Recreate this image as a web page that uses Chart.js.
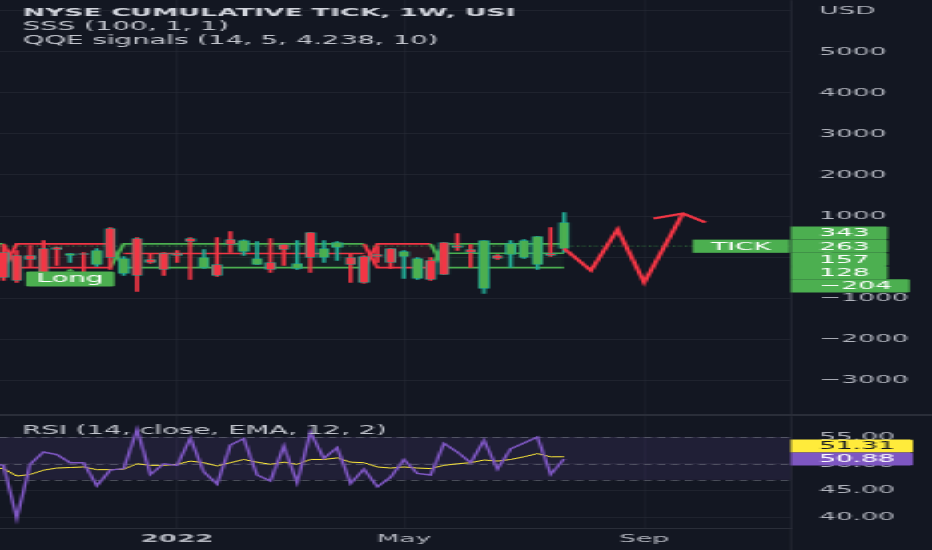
<!DOCTYPE html>
<html>
<head>
<meta charset="utf-8">
<script src="https://cdn.jsdelivr.net/npm/chart.js@4.4.1/dist/chart.umd.min.js"></script>
<style>
  html, body { margin: 0; padding: 0; background: #131722; overflow: hidden; }
  #stage { position: absolute; left: 0; top: 0; width: 388px; height: 550px; transform: scaleX(2.4021); transform-origin: 0 0; }
  #main { position: absolute; left: 0; top: 0; }
  #sep { position: absolute; left: 0; top: 414px; width: 388px; height: 2px; background: #2a2e39; }
  #rsi { position: absolute; left: 0; top: 416px; }
</style>
</head>
<body>
<div id="stage">
  <canvas id="main" width="388" height="414"></canvas>
  <div id="sep"></div>
  <canvas id="rsi" width="388" height="134"></canvas>
</div>
<script>
const FONT = "'DejaVu Sans', sans-serif";
const STRETCH = 932 / 388;
const AXIS_W = (932 - 791) / STRETCH;
const TICK_PAD = 11.7;

const X_MIN = -13.26;
const X_MAX = 46;

// weekly bars, week 0 = first week of 2022
const weeks = [-14, -13, -12, -11, -10, -9, -8, -7, -6, -5, -4, -3, -2, -1, 0, 1, 2, 3, 4, 5, 6, 7, 8, 9, 10, 11, 12, 13, 14, 15, 16, 17, 18, 19, 20, 21, 22, 23, 24, 25, 26, 27, 28, 29];
const candleOpen = [null, 110, 37, 37, 207, 232, 37, 85, -183, 695, -402, 451, -61, 85, 85, 451, -256, -183, 427, 134, -183, -134, 305, -280, 598, -12, 232, -12, 12, 61, 207, 12, -524, -85, 354, 280, 183, -768, 37, 61, -12, -183, 85, 207];
const candleHigh = [null, 280, 159, 280, 402, 245, 85, 110, 207, 720, 12, 476, 85, 110, 159, 476, 183, 476, 622, 420, 378, 451, 305, 402, 598, 402, 378, 85, 37, 256, 207, 159, -12, -12, 354, 573, 305, 402, 61, 402, 427, 500, 720, 1085];
const candleLow = [null, -573, -622, -256, -573, -207, -134, -378, -232, -305, -451, -841, -159, -451, -134, -549, -280, -476, 110, 37, -183, -378, -207, -300, -378, -134, -85, -622, -646, -134, -280, -524, -549, -573, -427, 159, -256, -890, -61, -256, -37, -305, 12, 110];
const candleClose = [null, -500, -573, -61, -524, 183, 85, 61, 159, -12, -37, -451, -134, -305, 37, 378, -12, -451, 305, 402, -37, -305, 183, -159, -12, 207, 354, -183, -622, 12, -134, 134, -37, -549, -427, 232, 110, 402, -37, 329, 402, 500, 37, 841];

// SSS band lines (they swap places at each regime change)
const sssA = [-260, -260, 320, 320, 320, 320, 320, 320, 320, 320, -260, -260, -260, -260, -260, -260, -260, -260, -260, -260, -260, -260, -260, -260, -260, -260, -260, -260, -260, 320, 320, 320, 320, 320, -260, -260, -260, -260, -260, -260, -260, -260, -260, -260];
const sssB = [320, 320, -260, -260, -260, -260, -260, -260, -260, -260, 320, 320, 320, 320, 320, 320, 320, 320, 320, 320, 320, 320, 320, 320, 320, 320, 320, 320, 320, -260, -260, -260, -260, -260, 320, 320, 320, 320, 320, 320, 320, 320, 320, 320];
const midRed = [null, null, null, null, null, null, null, null, null, null, 85, 85, 85, 85, 85, 85, 85, 85, 85, 85, 85, 85, 85, 85, 85, 85, 85, 85, 85, null, null, null, null, null, null, null, null, null, null, null, null, null, null, null];
const midGreen = [null, null, null, null, null, null, null, null, null, null, null, null, null, null, null, null, null, null, null, null, null, null, null, null, null, null, null, null, null, null, null, null, null, null, 93, 93, 93, 93, 93, 93, 93, 93, 93, 93];

const lastPrice = 263;
const priceTags = [343, 263, 157, 128, -204];
const mainTicks = [6000, 5000, 4000, 3000, 2000, 1000, 0, -1000, -2000, -3000];
const longSignalWeek = -8;

// hand-drawn zigzag arrow
const zigzagWeeks = [29, 31, 33, 35, 37.9];
const zigzagValues = [207, -330, 670, -620, 1060];
const arrowWeeks = [35.7, 37.9, 39.6];
const arrowValues = [940, 1060, 840];

const rsiValues = [50.2, 49.7, 39.8, 49.9, 52.2, 51.7, 50.2, 50.2, 45.9, 48.8, 49.1, 56.4, 48.0, 50.0, 49.7, 54.8, 48.5, 46.2, 53.5, 54.7, 47.9, 46.8, 53.3, 46.5, 55.9, 51.0, 53.0, 46.3, 49.0, 45.7, 47.5, 50.8, 48.2, 47.9, 53.8, 52.2, 50.2, 54.4, 49.0, 52.8, 53.9, 55.0, 48.0, 50.88];
const rsiMa = [49.3, 49.1, 47.7, 48.0, 48.8, 49.2, 49.3, 49.4, 48.9, 48.9, 49.0, 50.0, 49.7, 49.7, 49.9, 50.5, 50.2, 49.6, 50.2, 50.8, 50.3, 49.9, 50.3, 49.9, 50.8, 50.8, 51.1, 50.3, 50.2, 49.4, 49.2, 49.4, 49.2, 49.1, 49.7, 50.0, 50.2, 50.7, 50.5, 50.8, 51.3, 51.9, 51.3, 51.31];
const rsiTicks = [55, 50, 45, 40];
const rsiBands = [55, 50, 47];
const rsiTags = [51.31, 50.88];

const timeTickWeeks = [0, 17, 35];
const timeTickLabels = ["2022", "May", "Sep"];

const legendLines = ["NYSE CUMULATIVE TICK, 1W, USI", "SSS (100, 1, 1)", "QQE signals (14, 5, 4.238, 10)"];

const GREEN = "#4caf50";
const RED = "#f23645";
const TEAL = "#22ab94";
const GRID = "rgba(42, 46, 57, 0.55)";
const TEXT = "#b2b5be";

Chart.defaults.font.family = FONT;
Chart.defaults.font.size = 11;
Chart.defaults.color = TEXT;
Chart.defaults.animation = false;

const pts = (values) => weeks.map((w, j) => ({ x: w, y: values[j] }));
const candleIdx = weeks.map((_, j) => j).filter((j) => candleOpen[j] !== null);
const isUp = (j) => candleClose[j] >= candleOpen[j];
const bearish = (j) => sssA[j] > sssB[j];

function fixedTicks(values) {
  return (scale) => { scale.ticks = values.map((value) => ({ value })); };
}

function stackTags(scale, values, anchor, rowH) {
  const own = values.map((v) => scale.getPixelForValue(v));
  const placed = own.slice();
  for (let k = anchor - 1; k >= 0; k--) placed[k] = Math.min(own[k], placed[k + 1] - rowH);
  for (let k = anchor + 1; k < values.length; k++) placed[k] = Math.max(own[k], placed[k - 1] + rowH);
  return placed;
}

function drawTag(ctx, left, cy, h, text, bg, fg) {
  ctx.font = `11px ${FONT}`;
  const w = TICK_PAD + ctx.measureText(text).width + 7.5;
  ctx.fillStyle = bg;
  ctx.beginPath();
  ctx.roundRect(left, cy - h / 2, w, h, [0, 1.2, 1.2, 0]);
  ctx.fill();
  ctx.fillStyle = fg;
  ctx.textAlign = "left";
  ctx.textBaseline = "middle";
  ctx.fillText(text, left + TICK_PAD, cy + 0.5);
}

const fmtMain = (v) => (v === 6000 ? "" : v < 0 ? "\u2212" + Math.abs(v) : String(v));
const fmtTag = (v) => (v < 0 ? "\u2212" + Math.abs(v) : String(v));

const mainOverlay = {
  id: "mainOverlay",
  afterDraw(chart) {
    const { ctx, chartArea: a, scales: { x, y } } = chart;
    ctx.save();
    ctx.textAlign = "left";
    ctx.textBaseline = "middle";
    ctx.fillStyle = "#d1d4dc";
    ctx.font = `bold 11.1px ${FONT}`;
    ctx.fillText(legendLines[0], 9.4, 13);
    ctx.font = `11.5px ${FONT}`;
    ctx.fillStyle = "#c3c6ce";
    ctx.fillText(legendLines[1], 9.4, 26.7);
    ctx.fillText(legendLines[2], 9.4, 40.8);

    ctx.font = `11px ${FONT}`;
    ctx.fillStyle = TEXT;
    ctx.fillText("USD", a.right + TICK_PAD, y.getPixelForValue(mainTicks[0]));

    // "Long" signal label under its bar
    const j = weeks.indexOf(longSignalWeek);
    const lx = x.getPixelForValue(longSignalWeek);
    const ly = y.getPixelForValue(candleLow[j]) + 6;
    ctx.font = `11.5px ${FONT}`;
    const lw = ctx.measureText("Long").width + 9;
    ctx.fillStyle = GREEN;
    ctx.beginPath();
    ctx.moveTo(lx - 2, ly + 3);
    ctx.lineTo(lx, ly);
    ctx.lineTo(lx + 2, ly + 3);
    ctx.fill();
    ctx.beginPath();
    ctx.roundRect(lx - lw / 2, ly + 3, lw, 15, 1.3);
    ctx.fill();
    ctx.fillStyle = "#ffffff";
    ctx.textAlign = "center";
    ctx.fillText("Long", lx, ly + 11);

    // symbol name label on the price line
    const py = y.getPixelForValue(lastPrice);
    ctx.font = `11px ${FONT}`;
    const tw = ctx.measureText("TICK").width + 15.5;
    ctx.fillStyle = GREEN;
    ctx.fillRect(a.right - 0.6 - tw, py - 6.6, tw, 13.2);
    ctx.fillStyle = "#ffffff";
    ctx.fillText("TICK", a.right - 0.6 - tw / 2, py + 0.5);

    const placed = stackTags(y, priceTags, priceTags.indexOf(lastPrice), 13.2);
    priceTags.forEach((v, k) => drawTag(ctx, a.right, placed[k], 13.2, fmtTag(v), GREEN, "#ffffff"));
    ctx.restore();
  },
};

new Chart(document.getElementById("main"), {
  type: "bar",
  data: {
    datasets: [
      {
        type: "line",
        data: zigzagWeeks.map((w, k) => ({ x: w, y: zigzagValues[k] })),
        borderColor: RED,
        borderWidth: 2,
        pointRadius: 0,
        order: 0,
      },
      {
        type: "line",
        data: arrowWeeks.map((w, k) => ({ x: w, y: arrowValues[k] })),
        borderColor: RED,
        borderWidth: 2,
        pointRadius: 0,
        order: 0,
      },
      {
        label: "body",
        data: candleIdx.map((j) => ({ x: weeks[j], y: [candleOpen[j], candleClose[j]] })),
        backgroundColor: candleIdx.map((j) => (isUp(j) ? GREEN : RED)),
        borderColor: TEAL,
        borderWidth: 0.7,
        borderSkipped: false,
        barThickness: 4.2,
        grouped: false,
        order: 1,
      },
      {
        label: "wick",
        data: candleIdx.map((j) => ({ x: weeks[j], y: [candleLow[j], candleHigh[j]] })),
        backgroundColor: candleIdx.map((j) => (isUp(j) ? TEAL : RED)),
        borderWidth: 0,
        barThickness: 1,
        grouped: false,
        order: 2,
      },
      {
        type: "line",
        data: [{ x: X_MIN, y: lastPrice }, { x: X_MAX, y: lastPrice }],
        borderColor: "rgba(76, 175, 80, 0.45)",
        borderWidth: 1.3,
        borderDash: [1.2, 1.3],
        pointRadius: 0,
        order: 3,
      },
      {
        type: "line",
        data: pts(midRed),
        borderColor: RED,
        borderWidth: 1.6,
        pointRadius: 0,
        spanGaps: false,
        order: 4,
      },
      {
        type: "line",
        data: pts(midGreen),
        borderColor: GREEN,
        borderWidth: 1.6,
        pointRadius: 0,
        spanGaps: false,
        order: 4,
      },
      {
        type: "line",
        data: pts(sssA),
        borderColor: GREEN,
        borderWidth: 1.8,
        pointRadius: 0,
        fill: { target: 8 },
        backgroundColor: "rgba(76, 175, 80, 0.07)",
        segment: {
          borderColor: (c) => (bearish(c.p1DataIndex) ? RED : GREEN),
          backgroundColor: (c) => (bearish(c.p1DataIndex) ? "rgba(242, 54, 69, 0.09)" : "rgba(76, 175, 80, 0.07)"),
        },
        order: 5,
      },
      {
        type: "line",
        data: pts(sssB),
        borderColor: GREEN,
        borderWidth: 1.8,
        pointRadius: 0,
        segment: {
          borderColor: (c) => (bearish(c.p1DataIndex) ? RED : GREEN),
        },
        order: 5,
      },
    ],
  },
  options: {
    responsive: false,
    devicePixelRatio: 1,
    layout: { padding: 0 },
    plugins: { legend: { display: false }, tooltip: { enabled: false } },
    scales: {
      x: {
        type: "linear",
        min: X_MIN,
        max: X_MAX,
        offset: false,
        afterBuildTicks: fixedTicks(timeTickWeeks),
        afterFit: (s) => { s.height = 0; s.paddingLeft = 0; s.paddingRight = 0; },
        ticks: { display: false },
        grid: { color: GRID, lineWidth: 0.6, drawTicks: false, offset: false },
        border: { display: false },
      },
      y: {
        position: "right",
        min: -3829,
        max: 6268,
        afterBuildTicks: fixedTicks(mainTicks),
        afterFit: (s) => { s.width = AXIS_W; s.paddingTop = 0; s.paddingBottom = 0; },
        ticks: { padding: TICK_PAD, callback: fmtMain, autoSkip: false },
        grid: { color: GRID, lineWidth: 1, drawTicks: false },
        border: { display: true, color: "#2a2e39", width: 0.6 },
      },
    },
  },
  plugins: [mainOverlay],
});

const rsiOverlay = {
  id: "rsiOverlay",
  beforeDatasetsDraw(chart) {
    const { ctx, chartArea: a, scales: { y } } = chart;
    const top = y.getPixelForValue(rsiBands[0]);
    const bottom = y.getPixelForValue(rsiBands[rsiBands.length - 1]);
    ctx.save();
    ctx.fillStyle = "rgba(126, 87, 194, 0.13)";
    ctx.fillRect(a.left, top, a.right - a.left, bottom - top);
    ctx.strokeStyle = "rgba(120, 123, 134, 0.55)";
    ctx.lineWidth = 1;
    ctx.setLineDash([3.4, 2.3]);
    for (const v of rsiBands) {
      const py = Math.round(y.getPixelForValue(v)) + 0.5;
      ctx.beginPath();
      ctx.moveTo(a.left, py);
      ctx.lineTo(a.right, py);
      ctx.stroke();
    }
    ctx.restore();
  },
  afterDraw(chart) {
    const { ctx, chartArea: a, scales: { y } } = chart;
    ctx.save();
    ctx.font = `11.5px ${FONT}`;
    ctx.fillStyle = "#c3c6ce";
    ctx.textAlign = "left";
    ctx.textBaseline = "middle";
    ctx.fillText("RSI (14, close, EMA, 12, 2)", 9.2, 15);

    ctx.strokeStyle = "#2a2e39";
    ctx.lineWidth = 0.6;
    ctx.beginPath();
    ctx.moveTo(a.right, a.bottom);
    ctx.lineTo(a.right, chart.height);
    ctx.stroke();

    const placed = stackTags(y, rsiTags, rsiTags.length - 1, 13);
    drawTag(ctx, a.right, placed[0], 13, rsiTags[0].toFixed(2), "#ffeb3b", "#131722");
    drawTag(ctx, a.right, placed[1], 13, rsiTags[1].toFixed(2), "#7e57c2", "#ffffff");
    ctx.restore();
  },
};

new Chart(document.getElementById("rsi"), {
  type: "line",
  data: {
    datasets: [
      {
        data: pts(rsiValues),
        borderColor: "#7e57c2",
        borderWidth: 1.4,
        pointRadius: 0,
        tension: 0,
      },
      {
        data: pts(rsiMa),
        borderColor: "#ffeb3b",
        borderWidth: 1,
        pointRadius: 0,
        tension: 0,
      },
    ],
  },
  options: {
    responsive: false,
    devicePixelRatio: 1,
    layout: { padding: 0 },
    plugins: { legend: { display: false }, tooltip: { enabled: false } },
    scales: {
      x: {
        type: "linear",
        min: X_MIN,
        max: X_MAX,
        afterBuildTicks: fixedTicks(timeTickWeeks),
        afterFit: (s) => { s.height = 22; s.paddingLeft = 0; s.paddingRight = 0; },
        ticks: {
          padding: 5,
          maxRotation: 0,
          autoSkip: false,
          callback: (v) => timeTickLabels[timeTickWeeks.indexOf(v)],
          font: (c) => ({
            family: FONT,
            size: 11,
            weight: /^\d{4}$/.test(c.tick && c.tick.label) ? "bold" : "normal",
          }),
        },
        grid: { color: GRID, lineWidth: 0.6, drawTicks: false },
        border: { display: true, color: "#2a2e39", width: 1 },
      },
      y: {
        position: "right",
        min: 37.99,
        max: 58.93,
        afterBuildTicks: fixedTicks(rsiTicks),
        afterFit: (s) => { s.width = AXIS_W; s.paddingTop = 0; s.paddingBottom = 0; },
        ticks: { padding: TICK_PAD, callback: (v) => v.toFixed(2), autoSkip: false },
        grid: { color: GRID, lineWidth: 1, drawTicks: false },
        border: { display: true, color: "#2a2e39", width: 0.6 },
      },
    },
  },
  plugins: [rsiOverlay],
});
</script>
</body>
</html>
